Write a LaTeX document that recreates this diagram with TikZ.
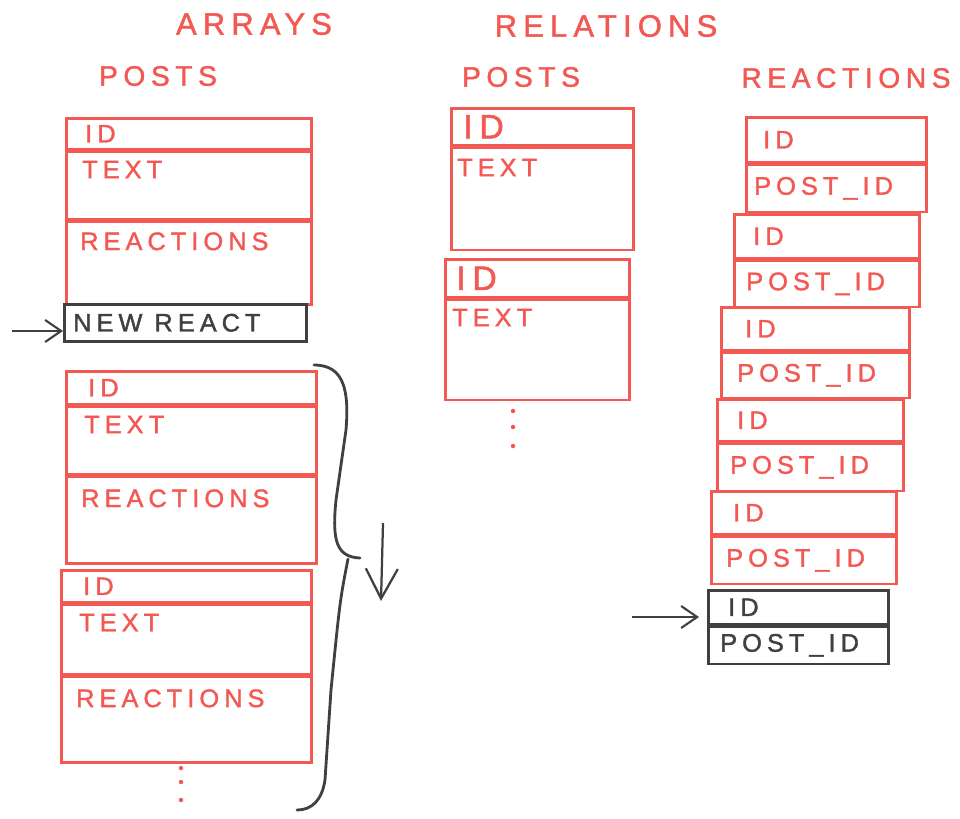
\documentclass[tikz,border=0pt]{standalone}
\usepackage{fontspec}
\newfontfamily\sketchfont[LetterSpace=20, FakeBold=1.5]{Liberation Sans}
\usetikzlibrary{positioning,arrows.meta}
\definecolor{sketchred}{RGB}{242,89,83}
\definecolor{sketchgray}{RGB}{64,64,64}
\tikzset{
  field/.style={draw=sketchred, line width=1.8pt, rectangle, anchor=north west, inner sep=0pt},
  newfield/.style={field, draw=sketchgray},
  lbl/.style={inner sep=0pt, anchor=west, text=sketchred, font=\sketchfont\fontsize{18}{18}\selectfont},
  biglbl/.style={lbl, font=\sketchfont\fontsize{24}{24}\selectfont},
  newlbl/.style={lbl, text=sketchgray},
  heading/.style={inner sep=0pt, text=sketchred, font=\sketchfont\fontsize{22}{22}\selectfont},
  subheading/.style={heading, font=\sketchfont\fontsize{20}{20}\selectfont},
  arrin/.style={draw=sketchgray, line width=1.5pt, -{Straight Barb[length=0.4cm, width=0.55cm]}},
  flow/.style={draw=sketchgray, line width=1.6pt, -{Straight Barb[length=0.75cm, width=0.8cm]}},
  brace/.style={draw=sketchgray, line width=2pt, line cap=round}
}
\begin{document}
\begin{tikzpicture}[x=0.025cm, y=-0.025cm]
\useasboundingbox (0,0) rectangle (960,818);

% headings
\node[heading] (arrays) at (254,24) {ARRAYS};
\node[heading] (relations) at (606,26) {RELATIONS};
\node[subheading] (aposts) at (158,76) {POSTS};
\node[subheading] (rposts) at (521,77) {POSTS};
\node[subheading] (rreacts) at (846,78) {REACTIONS};

% arrays: first post, with the new reaction
\node[field, minimum width=6.125cm, minimum height=0.775cm] (a1id) at (65,117) {};
\node[field, minimum width=6.125cm, minimum height=1.675cm] (a1text) at (a1id.south west) {};
\node[field, minimum width=6.125cm, minimum height=2.075cm] (a1react) at (a1text.south west) {};
\node[newfield, minimum width=6.05cm, minimum height=0.925cm] (a1new) at (63,303) {};

\node[lbl, right=0.5cm of a1id.west] (a1idl) {ID};
\node[lbl, below right=0.25cm and 0.425cm of a1text.north west] (a1textl) {TEXT};
\node[lbl, below right=0.3cm and 0.375cm of a1react.north west] (a1reactl) {REACTIONS};
\node[newlbl, right=0.25cm of a1new.west] (a1newl) {NEW REACT};

\coordinate (newin) at (12,331);
\draw[arrin] (newin) -- (newin -| a1new.west);

% arrays: next posts
\foreach \n/\px/\py/\hid/\htxt/\hrc in {2/65/370/0.825cm/1.675cm/2.175cm, 3/60/569/0.8cm/1.725cm/2.15cm} {
  \node[field, minimum width=6.25cm, minimum height=\hid] (a\n id) at (\px,\py) {};
  \node[field, minimum width=6.25cm, minimum height=\htxt] (a\n text) at (a\n id.south west) {};
  \node[field, minimum width=6.25cm, minimum height=\hrc] (a\n react) at (a\n text.south west) {};
  \node[lbl, right=0.575cm of a\n id.west] (a\n idl) {ID};
  \node[lbl, below right=0.25cm and 0.475cm of a\n text.north west] (a\n textl) {TEXT};
  \node[lbl, below right=0.35cm and 0.4cm of a\n react.north west] (a\n reactl) {REACTIONS};
}
\foreach \dy in {768,782,800} \fill[sketchred] (181,\dy) circle (1.6pt);

% brace and shift
\draw[brace] (314,365) .. controls (345,365) and (349,392) .. (346,430) -- (336,500)
  .. controls (332,540) and (336,557) .. (360,558);
\draw[brace] (348,559) .. controls (340,600) .. (331,690) -- (325,780)
  .. controls (322,800) and (312,810) .. (297,810);
\coordinate (flowtop) at (383,523);
\coordinate (flowbot) at (381,601);
\draw[flow] (flowtop) -- (flowbot);

% relations: posts
\node[field, minimum width=4.55cm, minimum height=0.925cm] (m1id) at (450,107) {};
\node[field, minimum width=4.55cm, minimum height=2.55cm] (m1text) at (m1id.south west) {};
\node[field, minimum width=4.6cm, minimum height=0.95cm] (m2id) at (444,258) {};
\node[field, minimum width=4.6cm, minimum height=2.5cm] (m2text) at (m2id.south west) {};

\node[biglbl, right=0.325cm of m1id.west] (m1idl) {ID};
\node[lbl, below right=0.3cm and 0.175cm of m1text.north west] (m1textl) {TEXT};
\node[biglbl, right=0.3cm of m2id.west] (m2idl) {ID};
\node[lbl, below right=0.25cm and 0.2cm of m2text.north west] (m2textl) {TEXT};
\foreach \dy in {411,427,446} \fill[sketchred] (513,\dy) circle (1.6pt);

% relations: reactions
\foreach \n/\px/\py/\bw/\hid/\hpost/\oid/\opost in {
  1/745/116/4.5cm/1.125cm/1.175cm/0.45cm/0.225cm,
  2/733/213/4.625cm/1.1cm/1.15cm/0.5cm/0.325cm,
  3/720/306/4.7cm/1.075cm/1.125cm/0.625cm/0.425cm,
  4/716/398/4.65cm/1.05cm/1.175cm/0.525cm/0.35cm,
  5/710/490/4.625cm/1.075cm/1.175cm/0.575cm/0.4cm} {
  \node[field, minimum width=\bw, minimum height=\hid] (r\n id) at (\px,\py) {};
  \node[field, minimum width=\bw, minimum height=\hpost] (r\n post) at (r\n id.south west) {};
  \node[lbl, right=\oid of r\n id.west] (r\n idl) {ID};
  \node[lbl, right=\opost of r\n post.west] (r\n postl) {POST\_ID};
}

\node[newfield, minimum width=4.5cm, minimum height=0.85cm] (rnewid) at (707,589) {};
\node[newfield, minimum width=4.5cm, minimum height=0.925cm] (rnewpost) at (rnewid.south west) {};
\node[newlbl, right=0.525cm of rnewid.west] (rnewidl) {ID};
\node[newlbl, right=0.325cm of rnewpost.west] (rnewpostl) {POST\_ID};

\coordinate (reactin) at (632,617);
\draw[arrin] (reactin) -- ([xshift=-0.2cm]reactin -| rnewid.west);

\end{tikzpicture}
\end{document}
